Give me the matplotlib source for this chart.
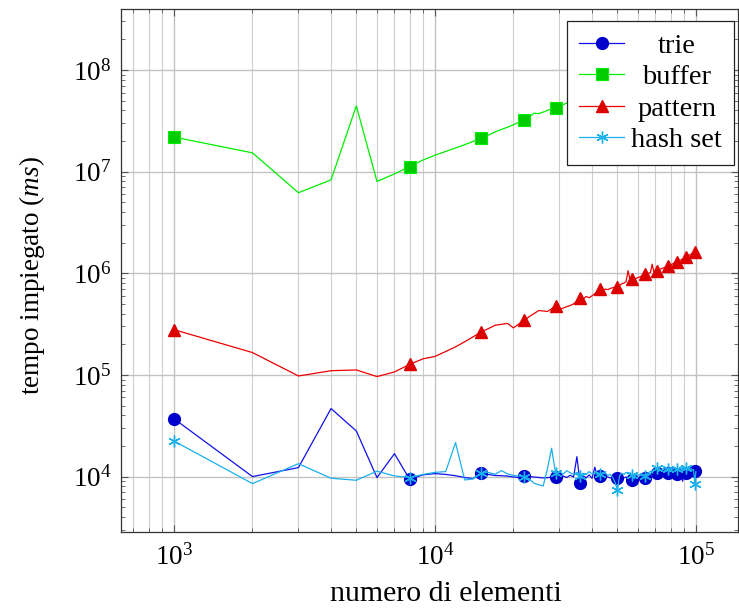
import matplotlib
matplotlib.use("Agg")
import matplotlib.pyplot as plt
from matplotlib.ticker import LogLocator, LogFormatterSciNotation, NullFormatter

plt.rcParams['font.family'] = ['Liberation Serif', 'DejaVu Serif']
plt.rcParams['mathtext.fontset'] = 'custom'
plt.rcParams['mathtext.rm'] = 'Liberation Serif'
plt.rcParams['mathtext.it'] = 'Liberation Serif:italic'
plt.rcParams['mathtext.bf'] = 'Liberation Serif:bold'

# numero di elementi (migliaia)
elementi_k = [1, 2, 3, 4, 5, 6, 7, 8, 9, 10,
              11, 12, 13, 14, 15, 16, 17, 18, 19, 20,
              21, 22, 23, 24, 25, 26, 27, 28, 29, 30,
              31, 32, 33, 34, 35, 36, 37, 38, 39, 40,
              41, 42, 43, 44, 45, 46, 47, 48, 49, 50,
              51, 52, 53, 54, 55, 56, 57, 58, 59, 60,
              61, 62, 63, 64, 65, 66, 67, 68, 69, 70,
              71, 72, 73, 74, 75, 76, 77, 78, 79, 80,
              81, 82, 83, 84, 85, 86, 87, 88, 89, 90,
              91, 92, 93, 94, 95, 96, 97, 98, 99, 100]

trie = [37100, 10000, 12260, 46700, 28100, 9770, 16800, 9410, 10400, 10700,
        10500, 10200, 9800, 9550, 10780, 10500, 10250, 10200, 10100, 9900,
        9800, 10150, 10000, 9900, 9800, 9700, 9750, 9900, 9850, 10000,
        10100, 9800, 10300, 9900, 15700, 8600, 10200, 9700, 10400, 9600,
        12370, 9900, 10230, 10000, 10100, 9900, 9700, 9800, 9600, 9630,
        9800, 9500, 9700, 9900, 9600, 9400, 9340, 9600, 9800, 9700,
        9500, 9800, 9900, 9700, 10100, 10300, 10500, 10700, 10800, 10900,
        10870, 10700, 10900, 10800, 10600, 10900, 11000, 10800, 10600, 10700,
        10900, 10500, 10800, 10700, 10620, 10900, 10700, 10200, 9000, 10900,
        10700, 10780, 11000, 10900, 11100, 11000, 11200, 11100, 11280, 11300]

buffer = [21.9e6, 15.3e6, 6.2e6, 8.3e6, 44.3e6, 8.0e6, 9.5e6, 11.2e6, 13.0e6, 14.5e6,
          15.8e6, 17.1e6, 18.4e6, 19.8e6, 21.4e6, 22.8e6, 24.6e6, 26.0e6, 27.4e6, 28.9e6,
          30.6e6, 32.5e6, 34.6e6, 37.6e6, 37.2e6, 38.5e6, 40.0e6, 41.3e6, 42.7e6, 44.0e6,
          45.6e6, 47.2e6, 48.3e6, 49.9e6, 51.2e6, 52.8e6, 54.1e6, 55.6e6, 57.0e6, 58.4e6,
          60.1e6, 61.3e6, 62.9e6, 64.2e6, 65.8e6, 67.0e6, 68.7e6, 70.1e6, 71.4e6, 73.0e6,
          74.3e6, 75.9e6, 77.2e6, 78.8e6, 80.1e6, 81.6e6, 83.0e6, 84.5e6, 86.0e6, 87.3e6,
          88.9e6, 90.2e6, 91.8e6, 93.1e6, 94.7e6, 96.0e6, 97.6e6, 98.9e6, 100.4e6, 101.8e6,
          103.3e6, 104.6e6, 106.2e6, 107.5e6, 109.1e6, 110.4e6, 112.0e6, 113.3e6, 114.9e6, 116.2e6,
          117.8e6, 119.1e6, 120.6e6, 122.0e6, 123.5e6, 124.9e6, 126.4e6, 127.8e6, 129.3e6, 130.6e6,
          132.2e6, 133.5e6, 135.1e6, 136.4e6, 138.0e6, 139.3e6, 140.9e6, 142.2e6, 143.8e6, 145.1e6]

pattern = [279000, 166000, 97700, 110000, 112000, 96300, 107000, 127000, 144000, 152000,
           170000, 189000, 212000, 237000, 263000, 285000, 308000, 315000, 321000, 290000,
           318000, 344000, 375000, 402000, 430000, 426000, 421000, 447000, 478000, 436000,
           455000, 470000, 482000, 500000, 530000, 568000, 560000, 590000, 575000, 600000,
           630000, 660000, 697000, 680000, 700000, 690000, 710000, 720000, 730000, 740000,
           760000, 790000, 800000, 830000, 1060000, 850000, 880000, 860000, 890000, 910000,
           920000, 940000, 960000, 978000, 990000, 1000000, 1020000, 1230000, 1030000, 1050000,
           1060000, 1080000, 1100000, 1110000, 1130000, 1140000, 1160000, 1180000, 1190000, 1210000,
           1230000, 1250000, 1260000, 1280000, 1300000, 1320000, 1340000, 1360000, 1380000, 1400000,
           1430000, 1460000, 1480000, 1500000, 1520000, 1550000, 1580000, 1600000, 1630000, 1650000]

hash_set = [22400, 8530, 13400, 9630, 9200, 11300, 10150, 9770, 10500, 11000,
            11200, 21600, 9270, 9480, 10780, 11000, 10540, 11450, 10600, 10300,
            10100, 10000, 9500, 8600, 8300, 8090, 12000, 19000, 10780, 11200,
            10600, 11400, 10900, 10500, 11000, 10230, 10800, 10500, 11200, 10600,
            10900, 10400, 10500, 10900, 10700, 10300, 10500, 9800, 8800, 7390,
            10200, 10800, 10500, 11000, 10600, 10900, 10400, 9500, 10700, 10200,
            10500, 10100, 10400, 10200, 10600, 10900, 11300, 10800, 11600, 11900,
            12170, 11200, 11700, 11400, 12000, 11300, 11800, 11900, 11100, 12200,
            11500, 11900, 12300, 11600, 12000, 11800, 12400, 11500, 12100, 12000,
            11700, 12100, 11600, 12200, 11800, 12000, 11500, 11700, 8470, 11200]

series_labels = ['trie', 'buffer', 'pattern', 'hash set']

x = [k * 1000 for k in elementi_k]

W, H = 739, 612
fig = plt.figure(figsize=(W / 100, H / 100), dpi=100)
ax = fig.add_axes([121 / W, 1 - 532 / H, (738 - 121) / W, (532 - 9) / H])

lw = 0.9
ax.plot(x, trie, color='#1010ee', lw=lw, marker='o', markersize=8.5,
        markerfacecolor='#0000cc', markeredgecolor='#0000cc', markevery=7,
        label=series_labels[0], zorder=3)
ax.plot(x, buffer, color='#00ee00', lw=lw, marker='s', markersize=8.3,
        markerfacecolor='#00cc00', markeredgecolor='#00ee00', markeredgewidth=0.8,
        markevery=7, label=series_labels[1], zorder=3)
ax.plot(x, pattern, color='#ee0000', lw=lw, marker='^', markersize=8.0,
        markerfacecolor='#dd0000', markeredgecolor='#dd0000', markevery=7,
        label=series_labels[2], zorder=3)
ax.plot(x, hash_set, color='#1ab0ee', lw=lw, marker=(6, 2, 0), markersize=8.5,
        markeredgecolor='#1ab0ee', markeredgewidth=1.0, markevery=7,
        label=series_labels[3], zorder=3)

ax.set_xscale('log')
ax.set_yscale('log')
ax.set_xlim(627, 145000)
ax.set_ylim(2850, 3.98e8)

ax.xaxis.set_major_locator(LogLocator(base=10, numticks=10))
ax.xaxis.set_minor_locator(LogLocator(base=10, subs=range(2, 10), numticks=30))
ax.yaxis.set_major_locator(LogLocator(base=10, numticks=10))
ax.yaxis.set_minor_locator(LogLocator(base=10, subs=range(2, 10), numticks=30))
ax.xaxis.set_major_formatter(LogFormatterSciNotation())
ax.yaxis.set_major_formatter(LogFormatterSciNotation())
ax.xaxis.set_minor_formatter(NullFormatter())
ax.yaxis.set_minor_formatter(NullFormatter())

ax.grid(True, which='major', axis='both', color='#c2c2c2', lw=1.0, zorder=0)
ax.grid(True, which='minor', axis='x', color='#cfcfcf', lw=0.8, zorder=0)
ax.set_axisbelow(True)

ax.tick_params(which='both', direction='in', top=True, right=True,
               color='#555555', labelsize=19.5)
ax.tick_params(which='major', length=5, width=0.8)
ax.tick_params(axis='x', which='major', pad=9)
ax.tick_params(axis='y', which='major', pad=7)
ax.tick_params(which='minor', length=3, width=0.6)
for s in ax.spines.values():
    s.set_color('#333333')
    s.set_linewidth(0.9)

ax.set_xlabel('numero di elementi', fontsize=21.5)
ax.xaxis.set_label_coords((446 - 121) / 617, (532 - 607) / 523)
ax.xaxis.label.set_va('bottom')
ax.set_ylabel(r'tempo impiegato ($ms$)', fontsize=19.5)
ax.yaxis.set_label_coords((47 - 121) / 617, 0.49)

leg = ax.legend(loc='upper right', bbox_to_anchor=((734 - 121) / 617, (532 - 20.7) / 523),
                borderaxespad=0, fontsize=20.5, frameon=True, fancybox=False,
                framealpha=1, edgecolor='#222222', handlelength=1.58,
                handletextpad=0.25, labelspacing=0.2, borderpad=0.42)
leg.get_frame().set_linewidth(0.9)
leg.set_zorder(10)

# centre legend labels like pgfplots
fig.canvas.draw()
renderer = fig.canvas.get_renderer()
texts = leg.get_texts()
widths = [t.get_window_extent(renderer).width for t in texts]
wmax = max(widths)
for t, w in zip(texts, widths):
    ext = t.get_window_extent(renderer)
    x0, y0 = t.get_transform().transform(t.get_position())
    t.set_visible(False)
    fig.text((ext.x0 + wmax / 2.0) / W, y0 / H, t.get_text(),
             ha='center', va='baseline', fontsize=20.5, zorder=20)

fig.savefig('out.png', dpi=100)
